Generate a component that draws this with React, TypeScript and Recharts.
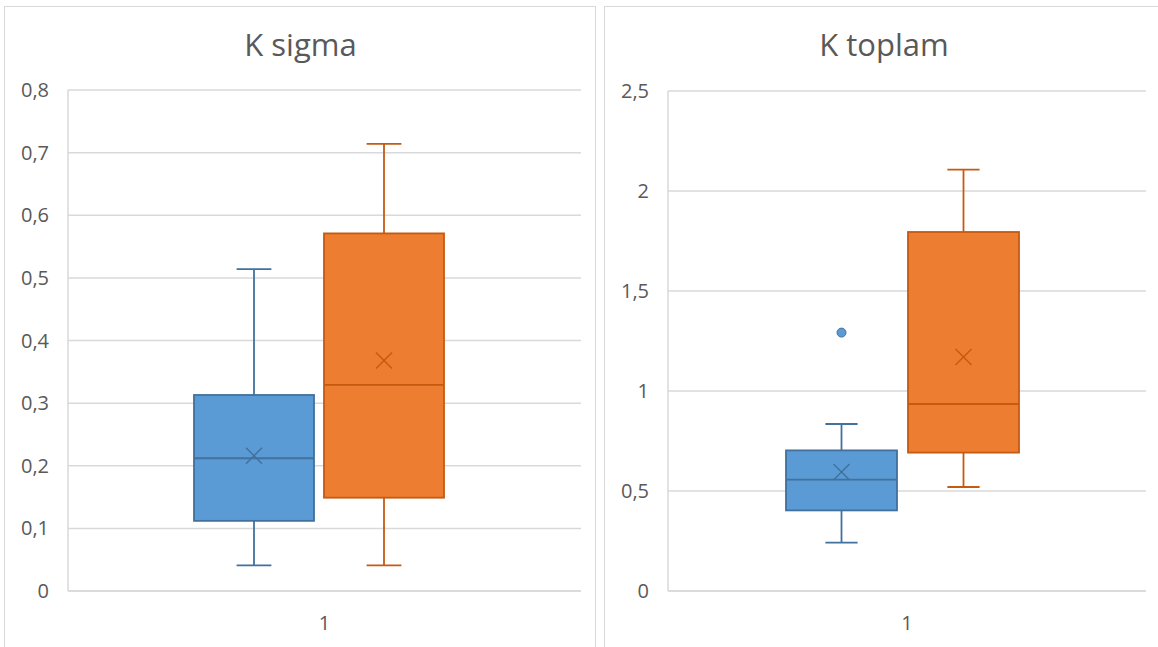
import React from "react";
import { ComposedChart, Bar, XAxis, YAxis, CartesianGrid } from "recharts";

// five-number summaries: [min, q1, median, q3, max]
const categories = ["1"];
const sigmaFirst = [0.041, 0.112, 0.212, 0.313, 0.514];
const sigmaSecond = [0.041, 0.149, 0.329, 0.571, 0.714];
const sigmaMeans = [0.216, 0.368];
const sigmaOutliersFirst: number[] = [];
const sigmaOutliersSecond: number[] = [];
const sigmaTicks = [0, 0.1, 0.2, 0.3, 0.4, 0.5, 0.6, 0.7, 0.8];

const toplamFirst = [0.242, 0.403, 0.557, 0.703, 0.835];
const toplamSecond = [0.52, 0.692, 0.935, 1.795, 2.107];
const toplamMeans = [0.595, 1.17];
const toplamOutliersFirst = [1.292];
const toplamOutliersSecond: number[] = [];
const toplamTicks = [0, 0.5, 1, 1.5, 2, 2.5];

const BLUE = { fill: "#5B9BD5", stroke: "#41719C" };
const ORANGE = { fill: "#ED7D31", stroke: "#C55A11" };
const GRID = "#d9d9d9";
const TEXT = "#595959";
const FONT = "'Open Sans', sans-serif";

const fmt = (v: number) => String(v).replace(".", ",");

type Group = { stats: number[]; mean: number; outliers: number[] };

const extent = (g: Group): [number, number] => [
  Math.min(g.stats[0], ...g.outliers),
  Math.max(g.stats[4], ...g.outliers),
];

// the bar spans the full data extent; everything else is placed inside that range
function BoxShape(props: any) {
  const { y, width, height, group, colors, nudge } = props;
  const x = props.x + (nudge || 0);
  const g: Group = group;
  const [min, q1, median, q3, max] = g.stats;
  const [lo, hi] = extent(g);
  const k = height / (hi - lo || 1);
  const py = (v: number) => y + (hi - v) * k;
  const cx = x + width / 2;
  const cap = width * 0.145;
  const m = 8;
  const my = py(g.mean);
  return (
    <g>
      <line x1={cx} x2={cx} y1={py(max)} y2={py(q3)} stroke={colors.stroke} strokeWidth={1.8} />
      <line x1={cx - cap} x2={cx + cap} y1={py(max)} y2={py(max)} stroke={colors.stroke} strokeWidth={1.8} />
      <line x1={cx} x2={cx} y1={py(q1)} y2={py(min)} stroke={colors.stroke} strokeWidth={1.8} />
      <line x1={cx - cap} x2={cx + cap} y1={py(min)} y2={py(min)} stroke={colors.stroke} strokeWidth={1.8} />
      <rect x={x} y={py(q3)} width={width} height={py(q1) - py(q3)} fill={colors.fill} stroke={colors.stroke} strokeWidth={1.8} />
      <line x1={x} x2={x + width} y1={py(median)} y2={py(median)} stroke={colors.stroke} strokeWidth={1.8} />
      <line x1={cx - m} x2={cx + m} y1={my - m} y2={my + m} stroke={colors.stroke} strokeWidth={1.5} />
      <line x1={cx - m} x2={cx + m} y1={my + m} y2={my - m} stroke={colors.stroke} strokeWidth={1.5} />
      {g.outliers.map((o, i) => (
        <circle key={i} cx={cx} cy={py(o)} r={4.5} fill={colors.fill} stroke={colors.stroke} strokeWidth={1} />
      ))}
    </g>
  );
}

function BoxChart(p: {
  left: number;
  width: number;
  margin: { top: number; right: number; bottom: number; left: number };
  first: Group;
  second: Group;
  ticks: number[];
  barSize: number;
  barGap: number;
  nudge: number;
}) {
  const data = categories.map((name) => ({ name }));
  const tick = { fill: TEXT, fontSize: 20, fontFamily: FONT };
  return (
    <div style={{ position: "absolute", left: p.left, top: 0 }}>
      <ComposedChart width={p.width} height={647} data={data} margin={p.margin} barSize={p.barSize} barGap={p.barGap}>
        <CartesianGrid vertical={false} stroke={GRID} strokeWidth={1.5} />
        <XAxis
          dataKey="name"
          axisLine={{ stroke: GRID, strokeWidth: 1.5 }}
          tickLine={false}
          tickSize={0}
          tickMargin={25}
          height={40}
          tick={tick}
        />
        <YAxis
          type="number"
          domain={[p.ticks[0], p.ticks[p.ticks.length - 1]]}
          ticks={p.ticks}
          tickFormatter={fmt}
          axisLine={{ stroke: GRID, strokeWidth: 1.5 }}
          tickLine={false}
          tickSize={0}
          tickMargin={19}
          width={60}
          tick={tick}
          interval={0}
        />
        <Bar
          dataKey={() => extent(p.first)}
          isAnimationActive={false}
          shape={(s: any) => <BoxShape {...s} group={p.first} colors={BLUE} nudge={p.nudge} />}
        />
        <Bar
          dataKey={() => extent(p.second)}
          isAnimationActive={false}
          shape={(s: any) => <BoxShape {...s} group={p.second} colors={ORANGE} nudge={p.nudge} />}
        />
      </ComposedChart>
    </div>
  );
}

const panelStyle = (left: number, top: number, width: number): React.CSSProperties => ({
  position: "absolute",
  left,
  top,
  width,
  height: 700,
  border: `1.5px solid ${GRID}`,
  boxSizing: "border-box",
  background: "#fff",
});

const titleStyle = (center: number): React.CSSProperties => ({
  position: "absolute",
  left: center - 200,
  width: 400,
  top: 29,
  textAlign: "center",
  fontFamily: FONT,
  fontSize: 31,
  lineHeight: "30px",
  color: TEXT,
});

export default function App() {
  return (
    <div style={{ position: "fixed", left: 0, top: 0, width: 1158, height: 647, overflow: "hidden", background: "#fff" }}>
      <div style={panelStyle(4, 6, 592)} />
      <div style={panelStyle(604, 6, 600)} />
      <div style={titleStyle(300.5)}>K sigma</div>
      <div style={titleStyle(884)}>K toplam</div>
      <BoxChart
        left={0}
        width={600}
        margin={{ top: 90, right: 19, bottom: 16, left: 8 }}
        first={{ stats: sigmaFirst, mean: sigmaMeans[0], outliers: sigmaOutliersFirst }}
        second={{ stats: sigmaSecond, mean: sigmaMeans[1], outliers: sigmaOutliersSecond }}
        ticks={sigmaTicks}
        barSize={120}
        barGap={10}
        nudge={-6}
      />
      <BoxChart
        left={600}
        width={558}
        margin={{ top: 91, right: 12, bottom: 16, left: 8 }}
        first={{ stats: toplamFirst, mean: toplamMeans[0], outliers: toplamOutliersFirst }}
        second={{ stats: toplamSecond, mean: toplamMeans[1], outliers: toplamOutliersSecond }}
        ticks={toplamTicks}
        barSize={111}
        barGap={11}
        nudge={-5}
      />
    </div>
  );
}
